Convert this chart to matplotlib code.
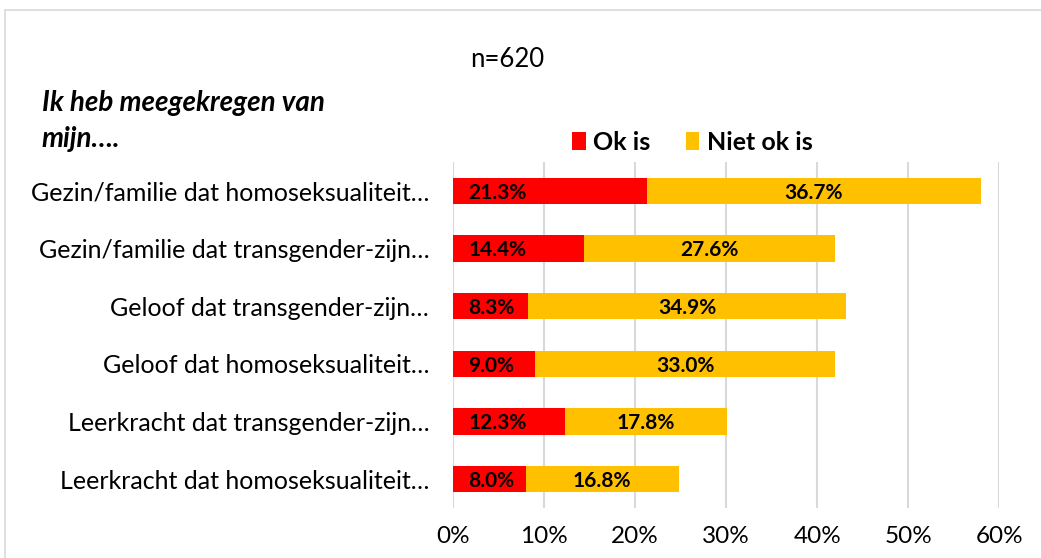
import numpy as np
import matplotlib
matplotlib.use("Agg")
from matplotlib import pyplot as plt
from matplotlib.patches import Rectangle

# data (top to bottom as in the chart)
categories = ["Gezin/familie dat homoseksualiteit…",
              "Gezin/familie dat transgender-zijn…",
              "Geloof dat transgender-zijn…",
              "Geloof dat homoseksualiteit…",
              "Leerkracht dat transgender-zijn…",
              "Leerkracht dat homoseksualiteit…"]
ok_is = [21.3, 14.4, 8.3, 9.0, 12.3, 8.0]
niet_ok_is = [36.7, 27.6, 34.9, 33.0, 17.8, 16.8]
series_names = ["Ok is", "Niet ok is"]
xticks = [0, 10, 20, 30, 40, 50, 60]

RED = "#FF0000"
YELLOW = "#FFC000"
FONT = "Lato"

plt.rcParams["font.family"] = [FONT, "DejaVu Sans"]

fig = plt.figure(figsize=(10.41, 5.58), dpi=100)
ax = fig.add_axes([0.435, 0.0896, 0.525, 0.620])

y = np.arange(len(categories))
ok = np.array(ok_is)
niet = np.array(niet_ok_is)
h = 0.46

b1 = ax.barh(y, ok, height=h, color=RED, label=series_names[0], zorder=2)
b2 = ax.barh(y, niet, left=ok, height=h, color=YELLOW, label=series_names[1], zorder=2)

# data labels: red ones at the bar base, yellow ones centred
for yi, a, b in zip(y, ok, niet):
    ax.text(1.7, yi + 0.03, f"{a:.1f}%", ha="left", va="center",
            fontsize=15, fontweight="bold", color="black", zorder=3)
    ax.text(a + b / 2, yi + 0.03, f"{b:.1f}%", ha="center", va="center",
            fontsize=15, fontweight="bold", color="black", zorder=3)

ax.set_xlim(0, 60)
ax.set_ylim(len(categories) - 0.5, -0.5)
ax.set_xticks(xticks)
ax.set_xticklabels([f"{t}%" for t in xticks], fontsize=17.5)
ax.set_yticks(y)
ax.set_yticklabels(categories, fontsize=18)
ax.tick_params(axis="both", length=0)
ax.tick_params(axis="x", pad=13)
ax.tick_params(axis="y", pad=17)
ax.xaxis.grid(True, color="#D9D9D9", linewidth=1.5, zorder=0)
ax.set_axisbelow(True)
for s in ax.spines.values():
    s.set_visible(False)

fig.text(0.487, 0.893, "n=620", ha="center", va="center", fontsize=18.5)
fig.text(0.040, 0.783, "Ik heb meegekregen van\nmijn….", ha="left", va="center",
         fontsize=20, fontweight="bold", fontstyle="italic", linespacing=1.5)

leg = fig.legend(loc="center", bbox_to_anchor=(0.665, 0.745), ncol=2, frameon=False,
                 prop={"size": 18, "weight": "bold"}, handlelength=0.55, handleheight=0.7,
                 handletextpad=0.3, columnspacing=1.4)

# light outline of the chart area
fig.patches.append(Rectangle((0.005, -0.05), 1.2, 1.032, transform=fig.transFigure,
                             fill=False, edgecolor="#D9D9D9", linewidth=1.2))

fig.savefig("out.png", dpi=100, facecolor="white")
